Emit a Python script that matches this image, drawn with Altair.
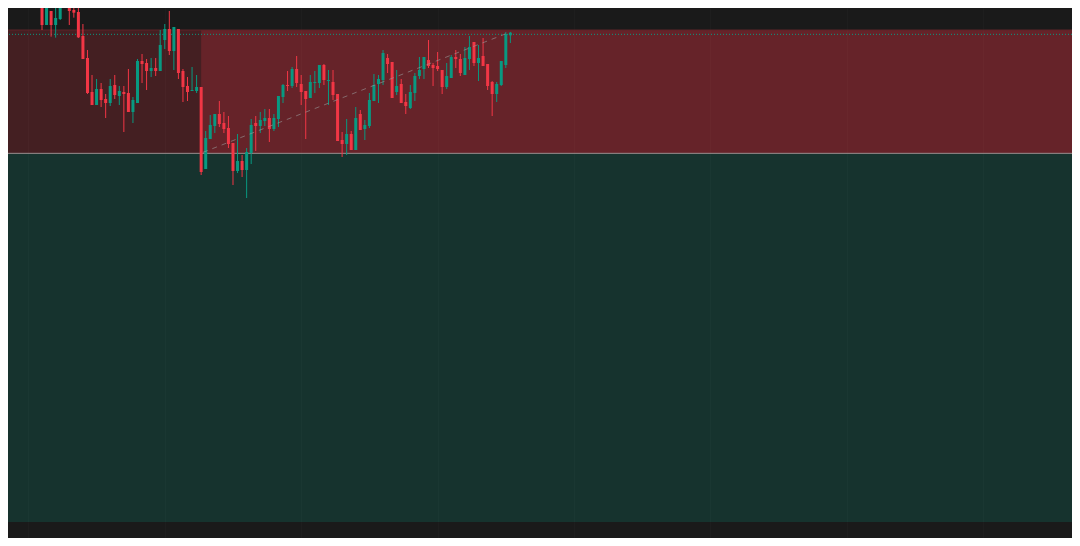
import altair as alt
import pandas as pd

# ---- candle data (bar index, prices) ----
bar = list(range(104))
open_ = [303.0, 292.5, 296.7, 292.5, 294.3, 304.0, 301.0, 297.0, 296.4, 289.2,
         282.6, 272.4, 268.5, 273.3, 270.3, 269.1, 274.5, 271.2, 272.4, 272.1,
         266.4, 269.1, 281.7, 281.1, 278.7, 279.6, 278.7, 288.0, 291.3, 284.7,
         291.3, 278.7, 274.2, 272.7, 272.7, 273.9, 249.3, 258.3, 262.2, 265.8,
         263.1, 261.6, 257.1, 248.7, 251.7, 249.0, 254.1, 263.1, 262.2, 263.7,
         264.6, 261.3, 264.3, 270.9, 274.5, 274.2, 279.3, 274.8, 272.7, 270.6,
         275.1, 275.1, 280.5, 275.7, 275.4, 271.8, 258.0, 256.8, 259.8, 255.0,
         265.8, 261.3, 262.2, 269.7, 274.8, 276.0, 282.6, 281.4, 272.4, 274.8,
         269.4, 267.6, 272.1, 277.2, 279.3, 282.0, 280.5, 280.2, 279.0, 273.9,
         276.6, 282.9, 282.3, 277.5, 282.3, 287.4, 281.1, 283.2, 280.8, 275.4,
         271.8, 274.5, 280.5, 289.4]
high = [304.5, 298.0, 296.7, 298.2, 303.0, 305.0, 302.0, 299.4, 300.5, 292.8,
        285.0, 277.5, 276.3, 275.1, 271.8, 276.3, 277.5, 274.2, 274.2, 279.3,
        270.9, 282.3, 283.8, 282.3, 282.6, 282.6, 291.0, 292.8, 296.7, 291.9,
        291.3, 279.3, 276.9, 279.9, 277.5, 273.9, 260.7, 265.5, 265.8, 269.7,
        266.4, 265.2, 257.1, 259.8, 253.5, 255.6, 264.3, 265.2, 266.4, 267.3,
        267.3, 265.8, 271.2, 274.8, 278.7, 279.9, 283.2, 277.5, 272.7, 277.5,
        278.7, 280.5, 280.8, 279.0, 279.0, 271.8, 260.4, 264.3, 260.7, 267.9,
        267.0, 264.0, 272.1, 277.8, 277.5, 285.0, 283.8, 281.4, 279.0, 276.3,
        271.8, 274.5, 278.1, 282.9, 282.9, 288.0, 281.1, 284.4, 279.0, 281.1,
        283.5, 285.0, 283.8, 285.9, 289.2, 287.4, 286.5, 288.6, 280.8, 275.7,
        275.4, 281.7, 290.4, 290.4]
low = [291.0, 292.5, 289.0, 288.7, 294.0, 298.2, 292.5, 294.7, 288.6, 282.3,
       271.8, 268.5, 268.5, 267.9, 264.6, 268.2, 270.3, 268.5, 260.4, 266.4,
       263.1, 269.1, 275.1, 273.0, 276.9, 277.2, 278.7, 285.3, 283.5, 279.0,
       276.3, 269.4, 269.7, 272.7, 272.1, 247.5, 249.3, 258.3, 260.1, 261.9,
       260.1, 255.6, 244.5, 248.1, 246.9, 240.6, 250.8, 254.7, 260.1, 262.2,
       257.4, 260.7, 261.9, 269.1, 272.7, 273.6, 273.9, 268.5, 258.3, 270.6,
       272.1, 273.6, 274.5, 268.5, 270.0, 257.7, 252.9, 253.5, 255.0, 255.0,
       261.0, 258.0, 261.6, 269.7, 269.1, 274.5, 278.1, 270.6, 271.5, 269.1,
       265.8, 267.3, 269.7, 276.3, 276.3, 279.6, 274.2, 278.7, 271.8, 273.3,
       276.6, 279.6, 277.2, 277.5, 279.0, 280.2, 275.7, 280.2, 273.0, 265.2,
       269.4, 274.2, 279.6, 287.1]
close = [292.5, 297.6, 292.5, 294.6, 302.0, 301.5, 296.7, 296.2, 288.8, 282.3,
         272.1, 268.5, 273.3, 270.0, 269.1, 274.2, 271.5, 272.7, 271.8, 266.4,
         270.0, 281.7, 280.8, 278.7, 279.6, 278.7, 286.5, 291.3, 284.7, 291.9,
         278.1, 273.9, 272.4, 273.0, 273.9, 248.4, 258.6, 262.5, 265.8, 262.8,
         261.3, 256.8, 248.7, 251.7, 249.0, 254.4, 262.5, 262.2, 264.0, 264.6,
         261.3, 264.6, 271.2, 274.5, 274.2, 279.3, 275.1, 272.4, 270.3, 275.4,
         275.4, 280.5, 276.0, 276.0, 271.5, 257.7, 256.8, 259.8, 255.0, 264.6,
         261.0, 262.5, 270.0, 274.5, 276.3, 284.1, 280.8, 270.6, 274.2, 269.1,
         268.2, 272.4, 277.2, 279.0, 282.9, 280.2, 279.6, 279.3, 273.9, 277.2,
         282.9, 282.3, 278.1, 282.6, 285.9, 281.1, 282.6, 280.2, 274.2, 271.8,
         274.8, 281.7, 289.8, 290.2]

# ---- position tool levels ----
stop_price = 291.0
entry_price = 254.0
target_price = 143.4
marker_price = 289.7
entry_bar = 35
zone_left = -12
zone_right = 240
grid_bars = [-3, 27, 57, 87, 117, 147, 177, 207]
trend_bars = [35.4, 103]
trend_prices = [254.3, 290.4]

X_DOMAIN = [-6.38, 225.42]
Y_DOMAIN = [143.4, 297.6]

RED = "#F23645"
GREEN = "#089981"
BG = "#1a1a1a"
GRID = "#1e1e1e"

candles = pd.DataFrame({"bar": bar, "open": open_, "high": high,
                        "low": low, "close": close})
zones = pd.DataFrame({
    "x": [zone_left, entry_bar, zone_left],
    "x2": [zone_right, zone_right, zone_right],
    "y": [entry_price, entry_price, target_price],
    "y2": [stop_price, stop_price, entry_price],
    "kind": ["stop", "stop_active", "target"],
})
levels_entry = pd.DataFrame({"p": [entry_price]})
levels_top = pd.DataFrame({"p": [stop_price]})
levels_marker = pd.DataFrame({"p": [marker_price]})
trend = pd.DataFrame({"bar": trend_bars, "p": trend_prices})

xaxis = alt.Axis(values=grid_bars, labels=False, ticks=True, tickSize=16,
                 tickColor=GRID, domain=False, grid=True, gridColor=GRID,
                 gridWidth=1, title=None)
xscale = alt.Scale(domain=X_DOMAIN, nice=False, zero=False)
yscale = alt.Scale(domain=Y_DOMAIN, nice=False, zero=False)


def X(field):
    return alt.X(field, type="quantitative", scale=xscale, axis=xaxis)


def Y(field):
    return alt.Y(field, type="quantitative", scale=yscale, axis=None)


zone_layer = alt.Chart(zones).mark_rect(clip=True, opacity=0.2).encode(
    x=X("x"), x2="x2", y=Y("y"), y2="y2",
    color=alt.Color("kind:N", scale=alt.Scale(
        domain=["stop", "stop_active", "target"], range=[RED, RED, GREEN]),
        legend=None),
)

top_line = alt.Chart(levels_top).mark_rule(clip=True, color="#5c2428",
                                           strokeWidth=1).encode(y=Y("p"))
entry_line = alt.Chart(levels_entry).mark_rule(clip=True, color="#9a8f8f",
                                               strokeWidth=1).encode(y=Y("p"))
marker_line = alt.Chart(levels_marker).mark_rule(
    clip=True, color=GREEN, strokeWidth=1, strokeDash=[1, 2]).encode(y=Y("p"))

cond = alt.condition("datum.open > datum.close", alt.value(RED), alt.value(GREEN))

wicks = alt.Chart(candles).mark_rule(clip=True, strokeWidth=1).encode(
    x=X("bar"), y=Y("low"), y2="high", color=cond)
bodies = alt.Chart(candles).mark_bar(clip=True, width=3).encode(
    x=X("bar"), y=Y("open"), y2="close", color=cond)

trend_line = alt.Chart(trend).mark_line(
    clip=True, color="#9a9a9a", opacity=0.6, strokeWidth=1,
    strokeDash=[5, 5]).encode(x=X("bar"), y=Y("p"))

chart = alt.layer(
    zone_layer, top_line, entry_line, marker_line, wicks, bodies, trend_line
).properties(
    width=1064, height=514,
    padding={"left": 0, "top": 0, "right": 0, "bottom": 16},
    autosize=alt.AutoSizeParams(type="none"),
    background=BG,
).configure_view(strokeWidth=0)

chart.save("out.html", embed_options={"renderer": "svg", "actions": False})
